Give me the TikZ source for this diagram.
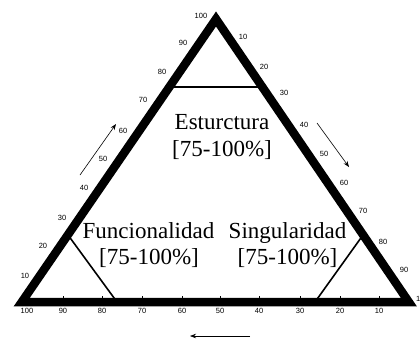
\documentclass[tikz,border=0pt]{standalone}
\usepackage{fontspec}
\setmainfont{Liberation Serif}
\newfontfamily\ticksfont{Liberation Sans}
\usetikzlibrary{arrows.meta}
\tikzset{
  frame/.style={line width=8.5pt, line join=miter},
  zoneline/.style={line width=1.6pt},
  ticklbl/.style={font=\ticksfont\fontsize{7.5}{8}\selectfont, inner sep=0pt},
  bigtxt/.style={font=\fontsize{23}{27}\selectfont, inner sep=0pt, anchor=base},
  dirarrow/.style={line width=0.6pt, -{Stealth[length=6pt,width=4.5pt]}},
  tickmark/.style={line width=0.8pt}
}
\begin{document}
\begin{tikzpicture}[x=1pt,y=-1pt]
\useasboundingbox (0,0) rectangle (420,338);
\clip (0,0) rectangle (420,338);
% corners
\coordinate (A) at (216,19);
\coordinate (B) at (21.8,302);
\coordinate (C) at (408.8,302);
% zone lines
\coordinate (t1) at (169,87);
\coordinate (t2) at (262,87);
\coordinate (l1) at (68,235);
\coordinate (l2) at (117,302);
\coordinate (r1) at (363,235);
\coordinate (r2) at (315,302);
\draw[zoneline] (t1) -- (t2);
\draw[zoneline] (l1) -- (l2);
\draw[zoneline] (r1) -- (r2);
% frame
\draw[frame] (A) -- (B) -- (C) -- cycle;
% bottom ticks
\foreach \x in {63,102,142,182,220,259,300,340,379}
  \draw[tickmark] (\x,297.5) -- (\x,295.5);
% left side labels
\foreach \v/\x/\y in {10/25/276,20/43/246,30/62/218,40/84/188,50/103/159,60/123/131,70/143/100,80/162/72,90/183/43,100/201/16}
  \node[ticklbl] (L\v) at (\x,\y) {\v};
% right side labels
\foreach \v/\x/\y in {10/243/37,20/264/67,30/284/93,40/304/125,50/324/154,60/344/183,70/363/211,80/383/242,90/404/270,100/422.5/299}
  \node[ticklbl] (R\v) at (\x,\y) {\v};
% bottom labels
\foreach \v/\x in {100/27,90/63,80/102,70/142,60/182,50/220,40/259,30/300,20/340,10/379}
  \node[ticklbl] (D\v) at (\x,311) {\v};
% texts
\node[bigtxt] (est) at (222,129.3) {Esturctura};
\node[bigtxt] (estp) at (222,156) {[75-100\%]};
\node[bigtxt] (fun) at (148.5,238.3) {Funcionalidad};
\node[bigtxt] (funp) at (149,264.3) {[75-100\%]};
\node[bigtxt] (sin) at (287.5,238.3) {Singularidad};
\node[bigtxt] (sinp) at (287.5,264.3) {[75-100\%]};
% arrows
\coordinate (a1s) at (80,175);
\coordinate (a1e) at (116,124);
\coordinate (a2s) at (317,123);
\coordinate (a2e) at (349,167);
\coordinate (a3s) at (250,336);
\coordinate (a3e) at (190,336);
\draw[dirarrow] (a1s) -- (a1e);
\draw[dirarrow] (a2s) -- (a2e);
\draw[dirarrow] (a3s) -- (a3e);
\end{tikzpicture}
\end{document}
